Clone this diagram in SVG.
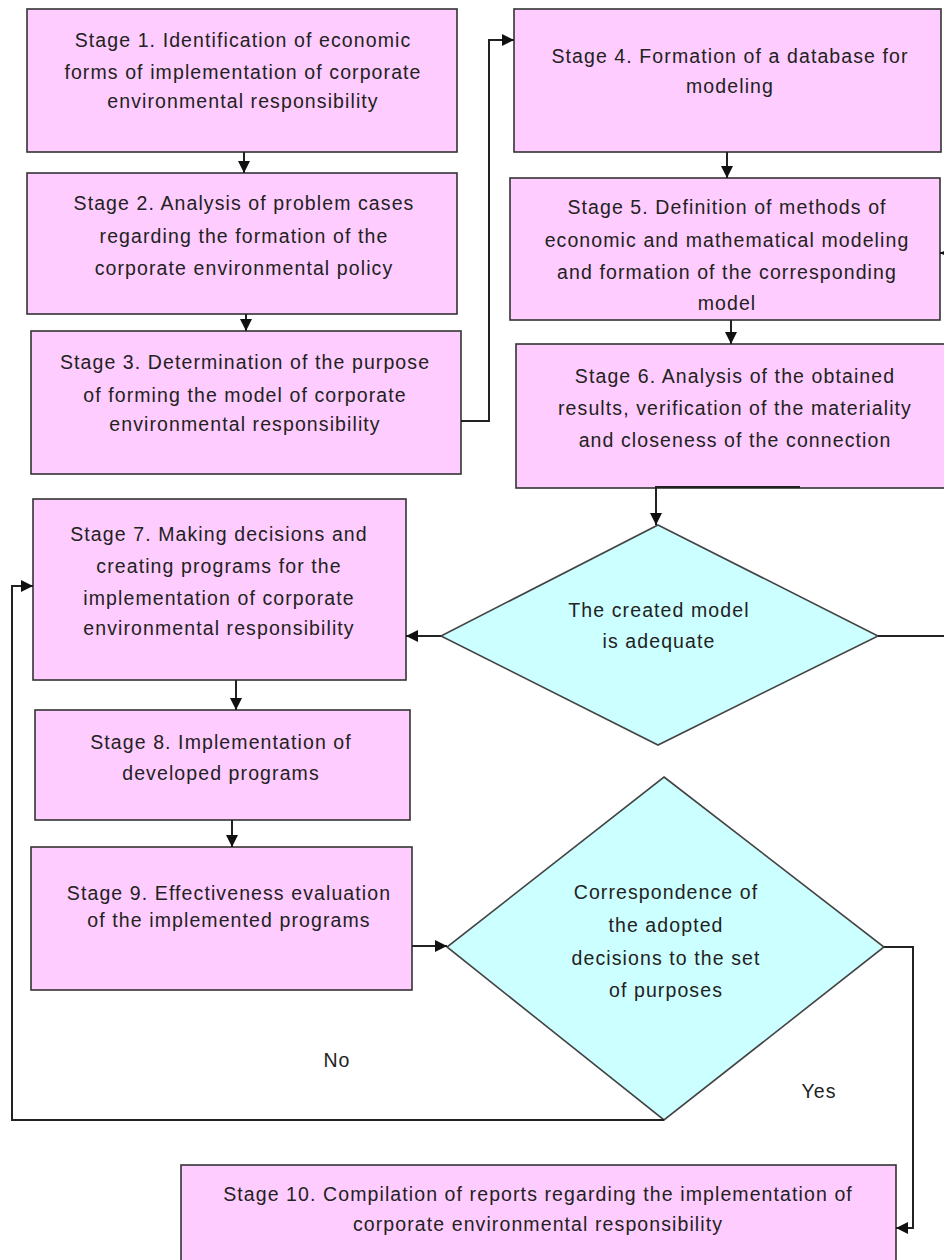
<svg xmlns="http://www.w3.org/2000/svg" width="944" height="1260" viewBox="0 0 944 1260">
<defs>
<style>
.box{fill:#FFCCFF;stroke:#333;stroke-width:1.6}
.dia{fill:#CCFFFF;stroke:#444;stroke-width:1.6}
.t{font-family:"Liberation Sans","Open Sans",sans-serif;font-size:19.5px;letter-spacing:1.1px;fill:#222;text-anchor:middle}
.c{fill:none;stroke:#222;stroke-width:2}
</style>
<marker id="ah" viewBox="0 0 10 10" refX="10" refY="5" markerWidth="6.5" markerHeight="6" orient="auto" markerUnits="strokeWidth">
<path d="M0,0 L10,5 L0,10 z" fill="#111"/>
</marker>
</defs>
<rect width="944" height="1260" fill="#fff"/>
<g id="stage1"><rect class="box" x="27" y="9" width="430" height="143"/>
<text class="t" x="243" y="47">Stage 1. Identification of economic</text>
<text class="t" x="243" y="79">forms of implementation of corporate</text>
<text class="t" x="243" y="108">environmental responsibility</text></g>
<g id="stage2"><rect class="box" x="27" y="173" width="430" height="141"/>
<text class="t" x="244" y="210">Stage 2. Analysis of problem cases</text>
<text class="t" x="244" y="243">regarding the formation of the</text>
<text class="t" x="244" y="275">corporate environmental policy</text></g>
<g id="stage3"><rect class="box" x="31" y="331" width="430" height="143"/>
<text class="t" x="245" y="369">Stage 3. Determination of the purpose</text>
<text class="t" x="245" y="402">of forming the model of corporate</text>
<text class="t" x="245" y="431">environmental responsibility</text></g>
<g id="stage4"><rect class="box" x="514" y="9" width="427" height="143"/>
<text class="t" x="730" y="63">Stage 4. Formation of a database for</text>
<text class="t" x="730" y="93">modeling</text></g>
<g id="stage5"><rect class="box" x="510" y="178" width="430" height="142"/>
<text class="t" x="727" y="214">Stage 5. Definition of methods of</text>
<text class="t" x="727" y="247">economic and mathematical modeling</text>
<text class="t" x="727" y="279">and formation of the corresponding</text>
<text class="t" x="727" y="310">model</text></g>
<g id="stage6"><rect class="box" x="516" y="344" width="430" height="144"/>
<text class="t" x="735" y="383">Stage 6. Analysis of the obtained</text>
<text class="t" x="735" y="415">results, verification of the materiality</text>
<text class="t" x="735" y="447">and closeness of the connection</text></g>
<g id="decision1"><polygon class="dia" points="658,525 878,636 658,745 441,636"/>
<text class="t" x="659" y="617">The created model</text>
<text class="t" x="659" y="648">is adequate</text></g>
<g id="stage7"><rect class="box" x="33" y="499" width="373" height="181"/>
<text class="t" x="219" y="541">Stage 7. Making decisions and</text>
<text class="t" x="219" y="573">creating programs for the</text>
<text class="t" x="219" y="605">implementation of corporate</text>
<text class="t" x="219" y="635">environmental responsibility</text></g>
<g id="stage8"><rect class="box" x="35" y="710" width="375" height="110"/>
<text class="t" x="221" y="749">Stage 8. Implementation of</text>
<text class="t" x="221" y="780">developed programs</text></g>
<g id="stage9"><rect class="box" x="31" y="847" width="381" height="143"/>
<text class="t" x="229" y="900">Stage 9. Effectiveness evaluation</text>
<text class="t" x="229" y="927">of the implemented programs</text></g>
<g id="decision2"><polygon class="dia" points="664,777 884,947 664,1120 447,947"/>
<text class="t" x="666" y="899">Correspondence of</text>
<text class="t" x="666" y="932">the adopted</text>
<text class="t" x="666" y="965">decisions to the set</text>
<text class="t" x="666" y="997">of purposes</text></g>
<g id="stage10"><rect class="box" x="181" y="1165" width="715" height="100"/>
<text class="t" x="538" y="1201">Stage 10. Compilation of reports regarding the implementation of</text>
<text class="t" x="538" y="1231">corporate environmental responsibility</text></g>
<g id="labels">
<text class="t" x="337" y="1067">No</text>
<text class="t" x="819" y="1098">Yes</text>
</g>
<g id="connectors">
<path class="c" d="M244,152 V173" marker-end="url(#ah)"/>
<path class="c" d="M246,314 V331" marker-end="url(#ah)"/>
<path class="c" d="M461,421 H489 V40 H514" marker-end="url(#ah)"/>
<path class="c" d="M727,152 V178" marker-end="url(#ah)"/>
<path class="c" d="M731,320 V344" marker-end="url(#ah)"/>
<path class="c" d="M878,636 H950 V253 H940" marker-end="url(#ah)"/>
<path class="c" d="M800,487 H656 V525" marker-end="url(#ah)"/>
<path class="c" d="M441,636 H406" marker-end="url(#ah)"/>
<path class="c" d="M236,680 V710" marker-end="url(#ah)"/>
<path class="c" d="M232,820 V847" marker-end="url(#ah)"/>
<path class="c" d="M412,946 H447" marker-end="url(#ah)"/>
<path class="c" d="M884,947 H913 V1228 H896" marker-end="url(#ah)"/>
<path class="c" d="M664,1120 H12 V586 H33" marker-end="url(#ah)"/>
</g>
</svg>
